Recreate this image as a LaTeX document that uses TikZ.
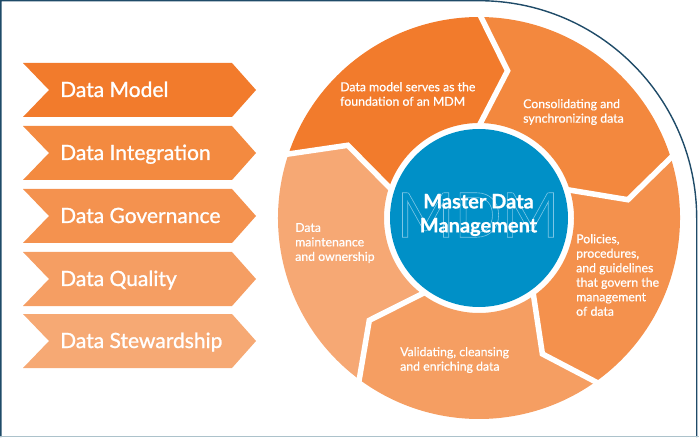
\documentclass[tikz,border=0pt]{standalone}
\usepackage{fontspec}
\setmainfont{Lato}
\newfontfamily\lblfont{Lato}[FakeBold=1.1]
\newfontfamily\segfont{Lato}[FakeBold=0.6]
\newfontfamily\titlefont{Lato}[BoldFeatures={FakeBold=0.6}]
\usetikzlibrary{calc}
\definecolor{c1}{HTML}{F27B2C}
\definecolor{c2}{HTML}{F38A40}
\definecolor{c3}{HTML}{F4924F}
\definecolor{c4}{HTML}{F59E63}
\definecolor{c5}{HTML}{F6A974}
\definecolor{w1}{HTML}{F27B2C}
\definecolor{w2}{HTML}{F3883E}
\definecolor{w3}{HTML}{F4914D}
\definecolor{w4}{HTML}{F59E62}
\definecolor{w5}{HTML}{F6A874}
\definecolor{hubblue}{HTML}{0090C7}
\definecolor{outl}{HTML}{7CC6E6}
\definecolor{framecol}{HTML}{1F4B68}
\definecolor{bottomcol}{HTML}{ACC2CB}
\newcommand{\outlinetext}[1]{\special{pdf:literal direct 1 Tr 0.6 w}#1\special{pdf:literal direct 0 Tr}}
\begin{document}
\begin{tikzpicture}[x=1pt,y=1pt,
  lbl/.style={text=white, inner sep=0pt, font=\lblfont\fontsize{21}{24}\selectfont},
  wtxt/.style={text=white, inner sep=0pt, align=left, anchor=west, font=\segfont\fontsize{12.3}{14.5}\selectfont},
  sep/.style={white, line width=5.5, line join=miter, miter limit=20}]
\useasboundingbox (0,0) rectangle (699,437);
% frame
\draw[framecol, line width=1.4] (0.8,0) -- (0.8,436.3) -- (479,436.3) arc[start angle=90, end angle=0, radius=217.7] -- (696.7,0);
\draw[bottomcol, line width=1.4] (0,0.7) -- (699,0.7);
% left chevrons
\foreach \t/\col/\txt/\nm in {63/c1/Data Model/dm, 126/c2/Data Integration/di, 189/c3/Data Governance/dg, 252/c4/Data Quality/dq, 314/c5/Data Stewardship/ds}{
  \pgfmathsetmacro\yt{437-\t}
  \pgfmathsetmacro\ym{437-\t-27}
  \pgfmathsetmacro\yb{437-\t-54}
  \pgfmathsetmacro\ybase{437-\t-34}
  \fill[\col] (23,\yt) -- (232,\yt) -- (256,\ym) -- (232,\yb) -- (23,\yb) -- (49,\ym) -- cycle;
  \node[lbl, anchor=base west] (\nm) at (60,\ybase) {\txt};
}
% wheel
\coordinate (c) at (479,219);
\foreach \a/\col in {162/w1, 90/w2, 18/w3, -54/w4, -126/w5}{
  \pgfmathsetmacro\b{\a-72}
  \fill[\col] ($(c)+(\a:201)$) -- ($(c)+(\a-11:150)$) -- ($(c)+(\a:95)$)
     arc[start angle=\a, end angle=\b, radius=95]
     -- ($(c)+(\b-11:150)$) -- ($(c)+(\b:201)$)
     arc[start angle=\b, end angle=\a, radius=201] -- cycle;
}
\foreach \a in {162,90,18,-54,-126}{
  \draw[sep] ($(c)+(\a:92)$) -- ($(c)+(\a-11:150)$) -- ($(c)+(\a:205)$);
}
\node[circle, fill=hubblue, minimum size=178pt, inner sep=0pt] (hub) at (c) {};
\node[inner sep=0pt, text=outl, font=\fontsize{62}{62}\selectfont] (mdm) at (478,222)
  {\outlinetext{MDM}};
\node[text=white, inner sep=0pt, align=center, font=\titlefont\bfseries\fontsize{20}{24}\selectfont] (title) at (478.5,222) {Master Data\\Management};
% segment texts
\node[wtxt] (t1) at (340,343) {Data model serves as the\\foundation of an MDM};
\node[wtxt] (t2) at (523,325) {Consolidating and\\synchronizing data};
\node[wtxt] (t3) at (576,162) {Policies,\\procedures,\\and guidelines\\that govern the\\management\\of data};
\node[wtxt] (t4) at (400,77) {Validating, cleansing\\and enriching data};
\node[wtxt] (t5) at (295,194) {Data\\maintenance\\and ownership};
\end{tikzpicture}
\end{document}
